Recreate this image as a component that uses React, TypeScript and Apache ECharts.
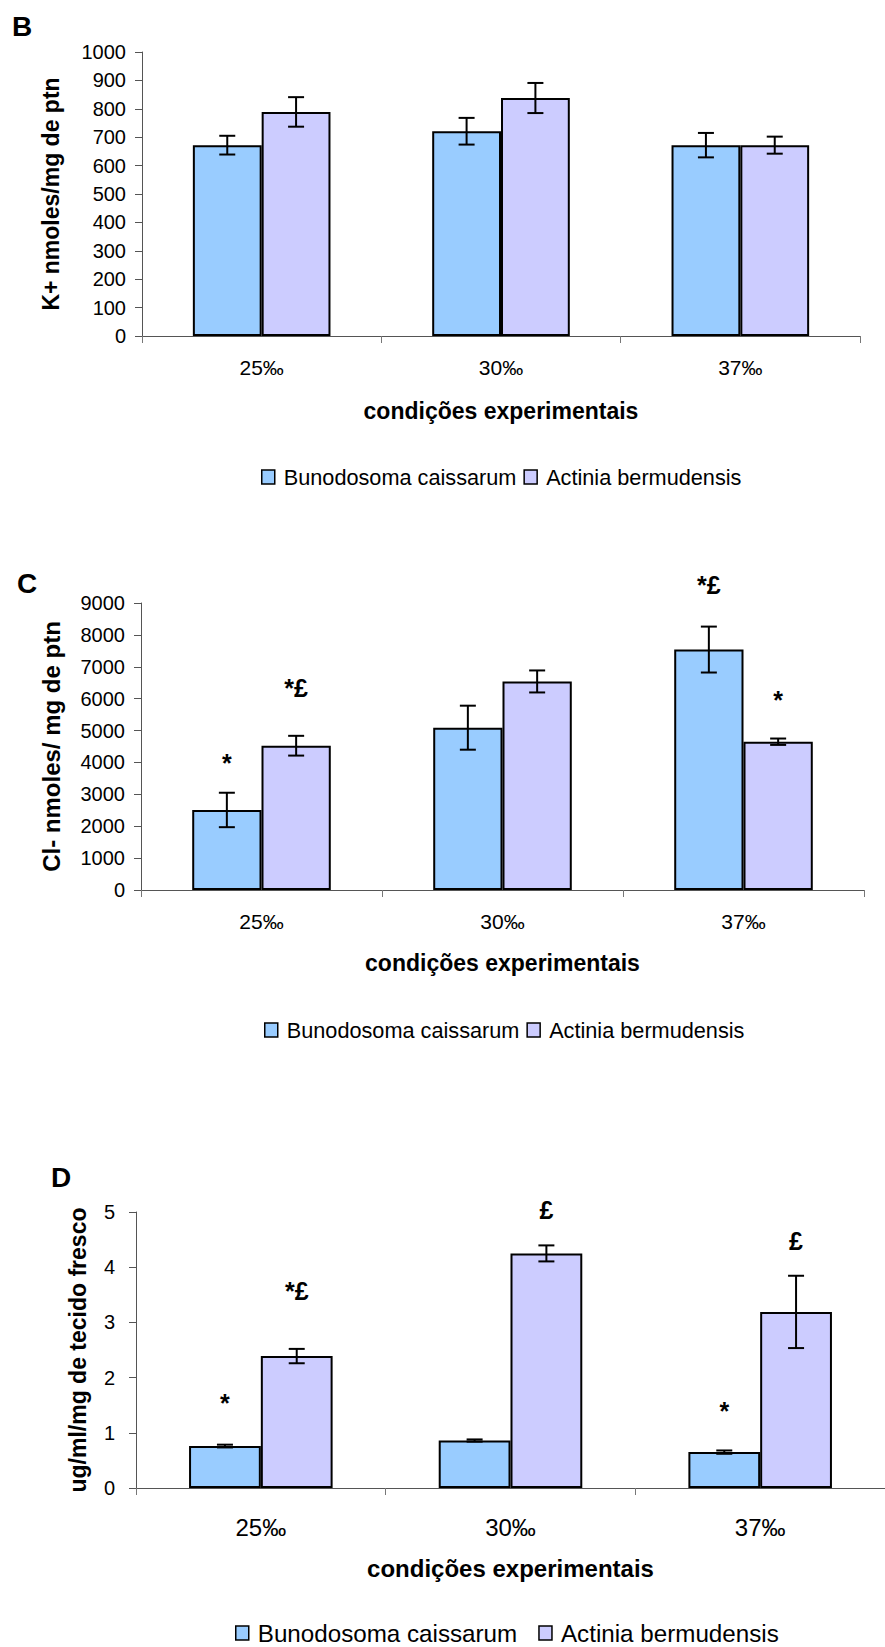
import { useEffect, useRef } from 'react';
import * as echarts from 'echarts';

// ---------- data ----------
const categories = ['25‰', '30‰', '37‰'];
const speciesNames = ['Bunodosoma caissarum', 'Actinia bermudensis'];
const speciesColors = ['#99CCFF', '#CCCCFF'];
const xAxisTitle = 'condições experimentais';

// Panel B : K+
const kBuno = [672, 721, 672];
const kBunoErr = [33, 47, 43];
const kActinia = [789, 838, 672];
const kActiniaErr = [52, 53, 30];
const kAxis = [0, 1000, 100]; // min, max, interval

// Panel C : Cl-
const clBuno = [2510, 5090, 7540];
const clBunoErr = [540, 690, 720];
const clActinia = [4525, 6540, 4650];
const clActiniaErr = [310, 345, 100];
const clAxis = [0, 9000, 1000];
// annotations: [species index, category index, text, level]
const clNotes: [number, number, string, number][] = [
  [0, 0, '*', 3970],
  [1, 0, '*£', 6330],
  [0, 2, '*£', 9565],
  [1, 2, '*', 5970],
];

// Panel D : ug/ml/mg
const dBuno = [0.76, 0.86, 0.65];
const dBunoErr = [0.025, 0.02, 0.03];
const dActinia = [2.39, 4.25, 3.19];
const dActiniaErr = [0.13, 0.145, 0.655];
const dAxis = [0, 5, 1];
const dNotes: [number, number, string, number][] = [
  [0, 0, '*', 1.54],
  [1, 0, '*£', 3.56],
  [1, 1, '£', 5.04],
  [0, 2, '*', 1.39],
  [1, 2, '£', 4.48],
];

// ---------- layout / style ----------
const FONT = '"Liberation Sans", Arial, Helvetica, sans-serif';
const GAP = 0.425;

const panels = [
  {
    letter: 'B', letterPos: [12, 26], yName: 'K+ nmoles/mg de ptn',
    means: [kBuno, kActinia], errs: [kBunoErr, kActiniaErr], axis: kAxis, notes: [] as [number, number, string, number][],
    grid: { left: 142, top: 52, width: 718, height: 284 },
    tickFont: 20, tickMargin: 16, catFont: 21, catMargin: 21, nameFont: 23, nameGap: 63,
    yNameFont: 23, yNameGap: 80, legendLeft: 261, legendTop: 466, legendFont: 21.7, legendGap: 7,
  },
  {
    letter: 'C', letterPos: [17, 583], yName: 'Cl- nmoles/ mg de ptn',
    means: [clBuno, clActinia], errs: [clBunoErr, clActiniaErr], axis: clAxis, notes: clNotes,
    grid: { left: 141, top: 603, width: 723, height: 287 },
    tickFont: 20, tickMargin: 16, catFont: 21, catMargin: 21, nameFont: 23, nameGap: 61,
    yNameFont: 24, yNameGap: 78, legendLeft: 264, legendTop: 1019, legendFont: 21.7, legendGap: 7,
  },
  {
    letter: 'D', letterPos: [51, 1177], yName: 'ug/ml/mg de tecido fresco',
    means: [dBuno, dActinia], errs: [dBunoErr, dActiniaErr], axis: dAxis, notes: dNotes,
    grid: { left: 136, top: 1212, width: 756, height: 276 },
    tickFont: 20, tickMargin: 21, catFont: 24, catMargin: 27, nameFont: 24, nameGap: 68,
    yNameFont: 23, yNameGap: 47, legendLeft: 235, legendTop: 1621, legendFont: 24.2, legendGap: 21,
  },
];

function barOffset(api: any, s: number) {
  const band = api.size([1, 0])[0];
  const w = (band * (1 - GAP)) / 2;
  return s === 0 ? -w / 2 : w / 2;
}

function buildOption() {
  const grid: any[] = [];
  const xAxis: any[] = [];
  const yAxis: any[] = [];
  const legend: any[] = [];
  const series: any[] = [];
  const graphic: any[] = [];

  panels.forEach((p, i) => {
    grid.push({ ...p.grid, containLabel: false });
    xAxis.push({
      type: 'category', gridIndex: i, data: categories, boundaryGap: true,
      axisLine: { show: true, lineStyle: { color: '#555', width: 1 } },
      axisTick: { show: true, length: 7, alignWithLabel: false, interval: 0, lineStyle: { color: '#777', width: 1 } },
      axisLabel: { fontSize: p.catFont, margin: p.catMargin, color: '#000', fontFamily: FONT, interval: 0 },
      splitLine: { show: false },
      name: xAxisTitle, nameLocation: 'middle', nameGap: p.nameGap,
      nameTextStyle: { fontSize: p.nameFont, fontWeight: 'bold', color: '#000', fontFamily: FONT },
    });
    yAxis.push({
      type: 'value', gridIndex: i, min: p.axis[0], max: p.axis[1], interval: p.axis[2],
      axisLine: { show: true, lineStyle: { color: '#555', width: 1 } },
      axisTick: { show: true, length: 7, lineStyle: { color: '#555', width: 1 } },
      splitLine: { show: false },
      axisLabel: {
        fontSize: p.tickFont, margin: p.tickMargin, color: '#000', fontFamily: FONT,
        formatter: (v: number) => String(v),
      },
      name: p.yName, nameLocation: 'middle', nameGap: p.yNameGap,
      nameTextStyle: { fontSize: p.yNameFont, fontWeight: 'bold', color: '#000', fontFamily: FONT },
    });
    legend.push({
      data: speciesNames, left: p.legendLeft, top: p.legendTop, padding: 0,
      itemWidth: 13, itemHeight: 14, itemGap: p.legendGap, icon: 'rect',
      itemStyle: { borderColor: '#000', borderWidth: 1.5 },
      textStyle: { fontSize: p.legendFont, color: '#000', fontFamily: FONT, padding: [0, 0, 0, 4] },
      selectedMode: false,
    });
    speciesNames.forEach((name, s) => {
      series.push({
        type: 'bar', name, xAxisIndex: i, yAxisIndex: i, data: p.means[s],
        barGap: '0%', barCategoryGap: GAP * 100 + '%',
        itemStyle: { color: speciesColors[s], borderColor: '#000', borderWidth: 2 },
        z: 2,
      });
    });
    // error bars
    const errData: number[][] = [];
    p.means.forEach((arr, s) =>
      arr.forEach((v, c) => errData.push([c, v - p.errs[s][c], v + p.errs[s][c], s]))
    );
    series.push({
      type: 'custom', xAxisIndex: i, yAxisIndex: i, z: 5, silent: true,
      encode: { x: 0, y: [1, 2] },
      data: errData,
      renderItem: (_params: any, api: any) => {
        const c = api.value(0);
        const lo = api.value(1);
        const hi = api.value(2);
        const s = api.value(3);
        const pLo = api.coord([c, lo]);
        const pHi = api.coord([c, hi]);
        const x = pLo[0] + barOffset(api, s);
        const cap = 8;
        const st = { stroke: '#000', lineWidth: 2 };
        return {
          type: 'group',
          children: [
            { type: 'line', shape: { x1: x, y1: pLo[1], x2: x, y2: pHi[1] }, style: st },
            { type: 'line', shape: { x1: x - cap, y1: pHi[1], x2: x + cap, y2: pHi[1] }, style: st },
            { type: 'line', shape: { x1: x - cap, y1: pLo[1], x2: x + cap, y2: pLo[1] }, style: st },
          ],
        };
      },
    });
    // significance annotations
    if (p.notes.length) {
      series.push({
        type: 'custom', xAxisIndex: i, yAxisIndex: i, z: 6, silent: true, clip: false,
        encode: { x: 1, y: 3 },
        data: p.notes.map((n) => [n[0], n[1], n[2], n[3]]),
        renderItem: (params: any, api: any) => {
          const n = p.notes[params.dataIndex];
          const pt = api.coord([n[1], n[3]]);
          const x = pt[0] + barOffset(api, n[0]);
          return {
            type: 'text', x, y: pt[1],
            style: {
              text: n[2], fill: '#000', font: `bold 25px ${FONT}`,
              align: 'center', verticalAlign: 'middle',
            },
          };
        },
      });
    }
    graphic.push({
      type: 'text', left: p.letterPos[0], top: p.letterPos[1] - 14,
      style: { text: p.letter, fill: '#000', font: `bold 28px ${FONT}` },
    });
  });

  return {
    animation: false,
    backgroundColor: '#fff',
    textStyle: { fontFamily: FONT },
    grid, xAxis, yAxis, legend, series, graphic,
  };
}

export default function App() {
  const ref = useRef<HTMLDivElement>(null);
  useEffect(() => {
    if (!ref.current) return;
    const chart = echarts.init(ref.current, undefined, { renderer: 'svg' });
    chart.setOption(buildOption() as any);
    return () => chart.dispose();
  }, []);
  return (
    <div
      ref={ref}
      style={{ position: 'absolute', left: 0, top: 0, width: 885, height: 1647, background: '#fff' }}
    />
  );
}
